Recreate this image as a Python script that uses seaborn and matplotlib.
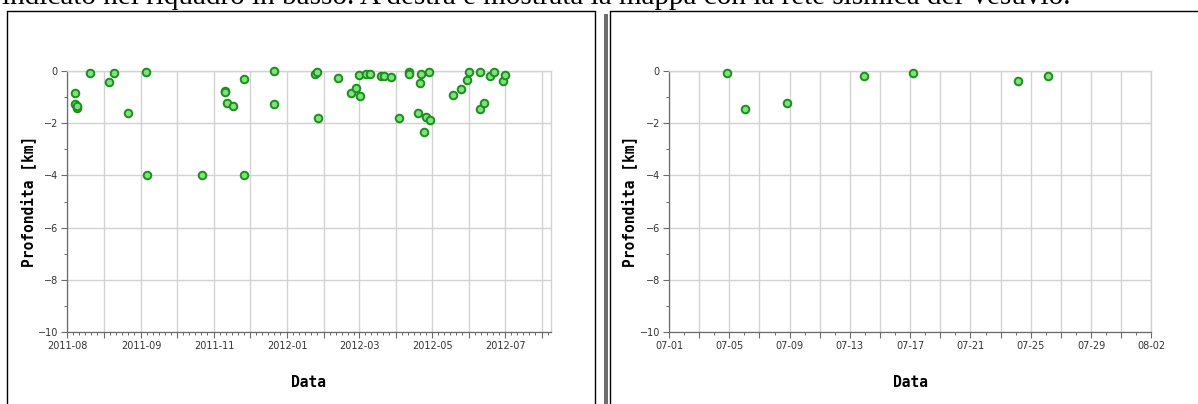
import matplotlib
matplotlib.use("Agg")
import matplotlib.pyplot as plt
import matplotlib.dates as mdates
from matplotlib.lines import Line2D
from matplotlib.patches import Rectangle
import seaborn as sns
import pandas as pd
import numpy as np


# ---- dati: ultimo anno (pannello sinistro) ----
anno_date = ["2011-07-08", "2011-07-08", "2011-07-09", "2011-07-09", "2011-07-20",
             "2011-08-05", "2011-08-09", "2011-08-21", "2011-09-05", "2011-09-06",
             "2011-10-22", "2011-11-10", "2011-11-10", "2011-11-12", "2011-11-17",
             "2011-11-26", "2011-11-26", "2011-12-21", "2011-12-21",
             "2012-01-24", "2012-01-26", "2012-01-27", "2012-02-12", "2012-02-23",
             "2012-02-27", "2012-03-01", "2012-03-02", "2012-03-07", "2012-03-10",
             "2012-03-19", "2012-03-22", "2012-03-28", "2012-04-03", "2012-04-12",
             "2012-04-12", "2012-04-19", "2012-04-21", "2012-04-22", "2012-04-24",
             "2012-04-26", "2012-04-28", "2012-04-29", "2012-05-18", "2012-05-25",
             "2012-05-30", "2012-06-01", "2012-06-10", "2012-06-10", "2012-06-13",
             "2012-06-18", "2012-06-22", "2012-06-29", "2012-07-01"]
anno_prof = [-0.84, -1.27, -1.41, -1.35, -0.08,
             -0.42, -0.08, -1.60, -0.04, -4.00,
             -4.00, -0.76, -0.80, -1.25, -1.34,
             -0.31, -4.00, -1.26, -0.03,
             -0.11, -0.06, -1.81, -0.27, -0.84,
             -0.65, -0.15, -0.96, -0.11, -0.11,
             -0.19, -0.19, -0.23, -1.81, -0.05,
             -0.11, -1.60, -0.46, -0.11, -2.34,
             -1.76, -0.04, -1.88, -0.92, -0.69,
             -0.37, -0.04, -0.06, -1.46, -1.22,
             -0.19, -0.06, -0.38, -0.18]

# ---- dati: ultimo mese (pannello destro) ----
mese_date = ["2012-07-04 21:00", "2012-07-06 01:00", "2012-07-08 20:00", "2012-07-13 22:00",
             "2012-07-17 04:00", "2012-07-24 04:00", "2012-07-26 04:00"]
mese_prof = [-0.08, -1.46, -1.22, -0.19, -0.08, -0.38, -0.19]

# etichette dell'asse x (come nel grafico originale)
anno_etichette = ["2011-08", "2011-09", "2011-11", "2012-01", "2012-03", "2012-05", "2012-07"]
titolo = "indicato nel riquadro in basso. A destra è mostrata la mappa con la rete sismica del Vesuvio."

W, H = 1198, 404
col_fill = "#80e080"
col_edge = "#1a8f1a"
col_grid = "#d2d2d2"
col_axis = "#6a6a6a"
col_text = "#333333"

sns.set_style("white")
fig = plt.figure(figsize=(W / 100, H / 100), dpi=100)


def px_axes(x0, x1, y0, y1):
    # rettangolo in pixel (origine in alto a sinistra) -> coordinate della figura
    return [x0 / W, 1 - y1 / H, (x1 - x0) / W, (y1 - y0) / H]


def stile(ax):
    ax.set_ylim(-10, 0)
    ax.set_yticks(np.arange(-10, 1, 2))
    ax.set_yticks(np.arange(-9, 0, 2), minor=True)
    ax.grid(True, which="major", color=col_grid, lw=1.0)
    ax.set_axisbelow(True)
    for s in ["top", "right"]:
        ax.spines[s].set_color(col_grid)
        ax.spines[s].set_linewidth(1.0)
    for s in ["left", "bottom"]:
        ax.spines[s].set_color(col_axis)
        ax.spines[s].set_linewidth(0.9)
    ax.tick_params(which="major", direction="out", length=4, width=0.8, color=col_axis,
                   labelsize=7, labelcolor=col_text, pad=2.5)
    ax.tick_params(which="minor", direction="out", length=2.5, width=0.7, color=col_axis)
    ax.tick_params(axis="y", which="both", left=True)
    ax.tick_params(axis="x", which="both", bottom=True)
    ax.set_ylabel("Profondita [km]", fontfamily="DejaVu Sans Mono", fontweight="bold",
                  fontsize=10.5, color="black")
    ax.set_xlabel("Data", fontfamily="DejaVu Sans Mono", fontweight="bold",
                  fontsize=10.5, color="black")
    ax.yaxis.set_label_coords(-0.064, 0.5)
    ax.xaxis.set_label_coords(0.5, -0.162)


# ---------- pannello sinistro: ultimo anno ----------
ax1 = fig.add_axes(px_axes(67, 550.7, 70.7, 332.3))
sns.scatterplot(x=pd.to_datetime(anno_date), y=anno_prof, ax=ax1, s=30,
                color=col_fill, edgecolor=col_edge, linewidth=1.4, clip_on=False, zorder=3)
ax1.set_xlim(pd.Timestamp("2011-07-01"), pd.Timestamp("2012-08-08"))
mesi = pd.date_range("2011-07-01", "2012-08-01", freq="MS")
ax1.set_xticks(mesi)
ax1.set_xticklabels([anno_etichette[i // 2] if i % 2 == 0 and i // 2 < len(anno_etichette) else ""
                     for i in range(len(mesi))])
ax1.xaxis.set_minor_locator(mdates.DayLocator(bymonthday=[6, 11, 16, 21, 26]))
stile(ax1)

# ---------- pannello destro: ultimo mese ----------
ax2 = fig.add_axes(px_axes(669, 1151.3, 70.7, 332.3))
sns.scatterplot(x=pd.to_datetime(mese_date), y=mese_prof, ax=ax2, s=30,
                color=col_fill, edgecolor=col_edge, linewidth=1.4, clip_on=False, zorder=3)
ax2.set_xlim(pd.Timestamp("2012-07-01"), pd.Timestamp("2012-08-02"))
giorni = pd.date_range("2012-07-01", "2012-08-02", freq="2D")
ax2.set_xticks(giorni)
ax2.set_xticklabels([d.strftime("%m-%d") if i % 2 == 0 else "" for i, d in enumerate(giorni)])
ax2.xaxis.set_minor_locator(mdates.DayLocator())
stile(ax2)
ax2.yaxis.set_label_coords(-0.066, 0.5)

# ---------- cornici dei riquadri ----------
def linea(x0, y0, x1, y1, c="black", lw=1.0):
    fig.add_artist(Line2D([x0 / W, x1 / W], [1 - y0 / H, 1 - y1 / H], color=c, lw=lw))


linea(7, 10.7, 594.5, 10.7)
linea(7, 10.7, 7, H)
linea(594.5, 10.7, 594.5, H)
linea(609.5, 10.7, W, 10.7)
linea(609.5, 10.7, 609.5, H)
fig.add_artist(Rectangle((604 / W, 0), 4 / W, 1 - 14 / H, transform=fig.transFigure,
                         color="#6e6e6e", lw=0))

# testo della pagina, tagliato in alto come nell'originale
fig.text(2 / W, 1 - 3.5 / H, titolo, family="Liberation Serif", fontsize=21,
         va="baseline", ha="left", color="black")

fig.savefig("out.png", dpi=100)
